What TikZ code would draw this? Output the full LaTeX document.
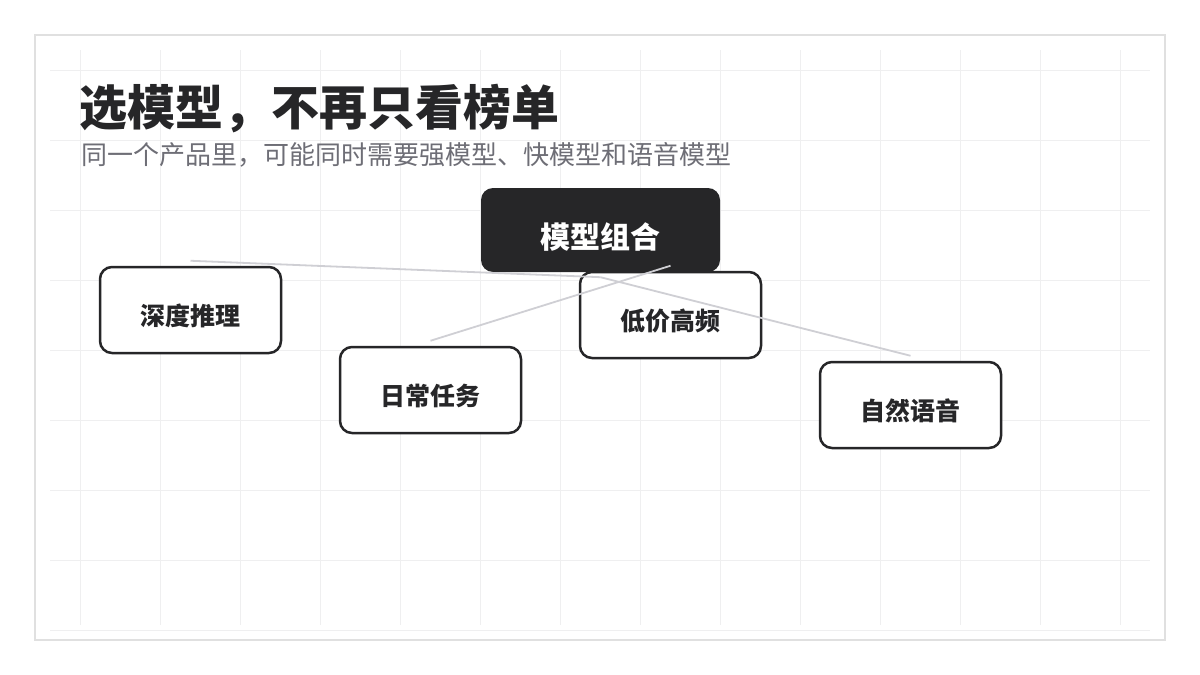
\documentclass[tikz,border=0pt]{standalone}
\usepackage{fontspec}
\setmainfont{Noto Sans CJK SC}
\usetikzlibrary{calc}
\definecolor{inkdark}{HTML}{262628}
\definecolor{gridc}{HTML}{EFEFF0}
\definecolor{framec}{HTML}{E0E0E0}
\definecolor{linkc}{HTML}{CFCFD4}
\definecolor{subc}{HTML}{6E6E76}
\tikzset{
  gridline/.style={draw=gridc, line width=1pt},
  framebox/.style={draw=framec, line width=2pt},
  hubbox/.style={fill=inkdark, rounded corners=12pt, minimum width=239pt, minimum height=84pt, inner sep=0pt, text=white, text height=37pt, text depth=0pt, font=\fontsize{30}{34}\selectfont\bfseries},
  leaf/.style={fill=white, draw=inkdark, line width=2.5pt, rounded corners=12pt, minimum width=181pt, minimum height=86pt, inner sep=0pt, text=inkdark, text height=31pt, text depth=0pt, font=\fontsize{25}{30}\selectfont\bfseries},
  link/.style={draw=linkc, line width=1.8pt},
  titletext/.style={anchor=base west, inner sep=0pt, text=inkdark, font=\fontsize{48}{56}\selectfont\bfseries},
  subtext/.style={anchor=base west, inner sep=0pt, text=subc, font=\fontsize{26}{30}\selectfont}
}
\begin{document}
\begin{tikzpicture}[x=1pt,y=-1pt]
\useasboundingbox (0,0) rectangle (1200,675);
\fill[white] (0,0) rectangle (1200,675);
\foreach \x in {80,160,...,1120} \draw[gridline] (\x,50) -- (\x,625);
\foreach \y in {70,140,...,630} \draw[gridline] (50,\y) -- (1150,\y);
\draw[framebox] (35,35) rectangle (1165,640);
\node[titletext] (title) at (79,125) {选模型，不再只看榜单};
\node[subtext] (subtitle) at (81,164) {同一个产品里，可能同时需要强模型、快模型和语音模型};
\node[hubbox] (hub) at (600.5,230) {模型组合};
\node[leaf] (deep) at (190.5,310) {深度推理};
\node[leaf] (daily) at (430.5,390) {日常任务};
\node[leaf] (cheap) at (670.5,315) {低价高频};
\node[leaf] (voice) at (910.5,405) {自然语音};
\draw[link] ($(deep.north)+(0,-5)$) -- ($(hub.south)+(0,5)$);
\draw[link] ($(hub.south)+(0,5)$) -- ($(voice.north)+(0,-5)$);
\draw[link] ($(daily.north)+(0,-5)$) -- ($(cheap.north)+(0,-5)$);
\end{tikzpicture}
\end{document}
